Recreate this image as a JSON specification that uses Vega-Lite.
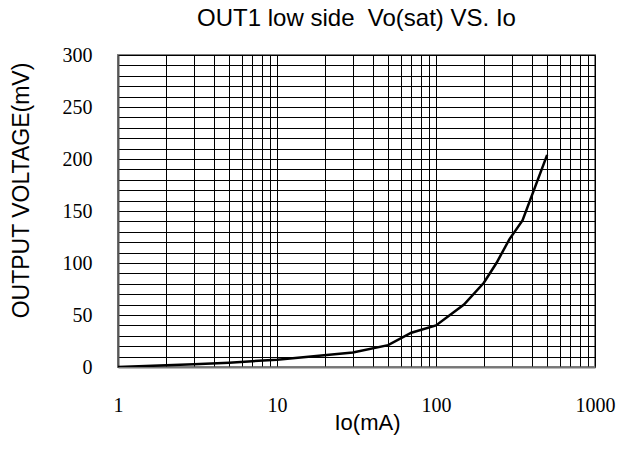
{
  "$schema": "https://vega.github.io/schema/vega-lite/v6.json",
  "autosize": "none",
  "width": 477,
  "height": 312,
  "padding": {"left": 118, "top": 55, "right": 35, "bottom": 84},
  "background": "white",
  "title": {
    "text": "OUT1 low side \u00a0Vo(sat) VS. Io",
    "font": "Liberation Sans",
    "fontSize": 24,
    "fontWeight": "normal",
    "color": "#000",
    "anchor": "middle",
    "frame": "group",
    "offset": 14
  },
  "config": {
    "view": {"stroke": "#808080", "strokeWidth": 2},
    "axis": {
      "gridColor": "#000",
      "gridOpacity": 1,
      "gridWidth": 1,
      "ticks": false,
      "tickSize": 0,
      "titleFont": "Liberation Sans",
      "titleFontWeight": "normal",
      "titleColor": "#000"
    }
  },
  "data": {
    "values": [
      {"io": 1, "v": 0},
      {"io": 3, "v": 2.6},
      {"io": 5, "v": 4.2},
      {"io": 10, "v": 7},
      {"io": 30, "v": 14},
      {"io": 50, "v": 21},
      {"io": 70, "v": 33},
      {"io": 100, "v": 40},
      {"io": 150, "v": 60},
      {"io": 200, "v": 81},
      {"io": 240, "v": 100},
      {"io": 290, "v": 123},
      {"io": 350, "v": 141},
      {"io": 500, "v": 204}
    ]
  },
  "mark": {"type": "line", "color": "#000", "strokeWidth": 2.5, "clip": true},
  "encoding": {
    "x": {
      "field": "io",
      "type": "quantitative",
      "scale": {"type": "log", "domain": [1, 1000], "nice": false},
      "axis": {
        "title": "Io(mA)",
        "titleFontSize": 22,
        "titleX": 249,
        "titleY": 62,
        "titleBaseline": "alphabetic",
        "titleAlign": "center",
        "values": [1,2,3,4,5,6,7,8,9,10,20,30,40,50,60,70,80,90,100,200,300,400,500,600,700,800,900,1000],
        "labelExpr": "indexof([1,10,100,1000], datum.value) >= 0 ? format(datum.value, 'd') : ''",
        "labelFont": "Liberation Serif",
        "labelFontSize": 20,
        "labelColor": "#000",
        "labelPadding": 38,
        "labelBaseline": "middle",
        "labelFlush": false,
        "labelOverlap": false,
        "domainColor": "#777",
        "domainWidth": 2
      }
    },
    "y": {
      "field": "v",
      "type": "quantitative",
      "scale": {"domain": [0, 300], "nice": false},
      "axis": {
        "title": "OUTPUT VOLTAGE(mV)",
        "titleFontSize": 23,
        "titleAngle": -90,
        "titleX": -90,
        "titleY": 135,
        "titleAlign": "center",
        "titleBaseline": "alphabetic",
        "values": [0,10,20,30,40,50,60,70,80,90,100,110,120,130,140,150,160,170,180,190,200,210,220,230,240,250,260,270,280,290,300],
        "labelExpr": "datum.value % 50 == 0 ? format(datum.value, 'd') : ''",
        "labelFont": "Liberation Serif",
        "labelFontSize": 20,
        "labelColor": "#000",
        "labelPadding": 26,
        "labelBaseline": "middle",
        "labelFlush": false,
        "labelOverlap": false,
        "domainColor": "#555",
        "domainWidth": 2
      }
    }
  }
}
